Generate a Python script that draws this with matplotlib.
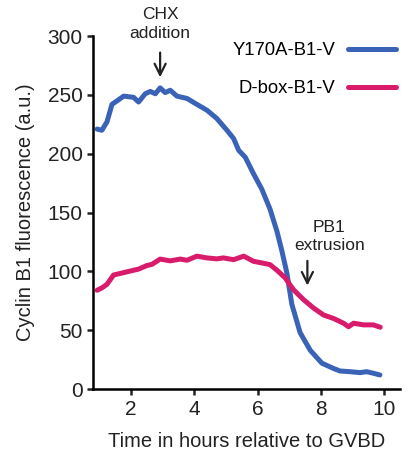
import matplotlib.pyplot as plt

plt.rcParams['font.family'] = ['Liberation Sans', 'DejaVu Sans']

# Time (h relative to GVBD) and fluorescence
t_y170a = [0.93, 1.08, 1.24, 1.40, 1.56, 1.77, 2.08, 2.24, 2.45, 2.61, 2.77, 2.92,
           3.08, 3.24, 3.45, 3.77, 4.08, 4.40, 4.71, 5.03, 5.24, 5.40, 5.61, 5.87,
           6.13, 6.39, 6.61, 6.76, 6.92, 7.08, 7.34, 7.66, 8.03, 8.39, 8.60, 8.92,
           9.23, 9.44, 9.65, 9.86]
y170a = [221, 220, 227, 242, 245, 249, 248, 244, 251, 253, 251, 256,
         252, 254, 249, 247, 242, 237, 230, 220, 213, 203, 197, 183,
         170, 153, 134, 118, 99, 72, 48, 33, 22, 17.6, 15.4, 14.8,
         14, 14.8, 13.5, 12]

t_dbox = [0.93, 1.08, 1.24, 1.45, 1.77, 2.08, 2.24, 2.50, 2.66, 2.92, 3.24, 3.56,
          3.77, 4.08, 4.40, 4.71, 4.92, 5.24, 5.56, 5.87, 6.18, 6.39, 6.61, 6.87,
          7.13, 7.45, 7.76, 8.08, 8.40, 8.71, 8.87, 9.03, 9.34, 9.65, 9.87]
dbox = [84, 86, 89, 97, 99, 101, 102, 105, 106, 110.5, 109, 110.5,
        109.5, 113, 111.5, 110.7, 111.5, 110, 113, 108.6, 107, 105.8, 101, 94.5,
        84.5, 76, 69, 63, 60, 56, 53, 56, 54.6, 54.6, 52.6]

fig = plt.figure(figsize=(4.14, 4.66), dpi=100)
ax = fig.add_axes([0.2246, 0.165, 0.742, 0.7575])

ax.plot(t_y170a, y170a, color='#3a63b8', lw=3.6, label='Y170A-B1-V', solid_capstyle='round')
ax.plot(t_dbox, dbox, color='#d81b6a', lw=3.6, label='D-box-B1-V', solid_capstyle='round')

ax.set_xlim(0.8, 10.5)
ax.set_ylim(0, 300)
ax.set_xticks([2, 4, 6, 8, 10])
ax.set_yticks([0, 50, 100, 150, 200, 250, 300])
for s in ['top', 'right']:
    ax.spines[s].set_visible(False)
for s in ['left', 'bottom']:
    ax.spines[s].set_linewidth(1.8)
ax.tick_params(width=1.8, length=4, labelsize=15, colors='#222222')
ax.set_xlabel('Time in hours relative to GVBD', fontsize=14.5, labelpad=10, color='#222222')
ax.set_ylabel('Cyclin B1 fluorescence (a.u.)', fontsize=14.5, labelpad=9, color='#222222')

# Event annotations
arrow = dict(arrowstyle='->', lw=1.6, color='#222222', mutation_scale=20, shrinkA=0, shrinkB=0)
ax.text(2.92, 296, 'CHX\naddition', ha='center', va='bottom', fontsize=12.5,
        color='#222222', linespacing=1.35)
ax.annotate('', xy=(2.92, 265), xytext=(2.92, 286), arrowprops=arrow, annotation_clip=False)
ax.text(8.26, 116, 'PB1\nextrusion', ha='center', va='bottom', fontsize=12.5,
        color='#222222', linespacing=1.2)
ax.annotate('', xy=(7.57, 88), xytext=(7.57, 109), arrowprops=arrow)

ax.legend(loc='upper right', bbox_to_anchor=(1.042, 1.03), frameon=False, markerfirst=False,
          fontsize=13.3, handlelength=2.6, handletextpad=0.7, labelspacing=1.15)

fig.savefig('out.png', dpi=100)
